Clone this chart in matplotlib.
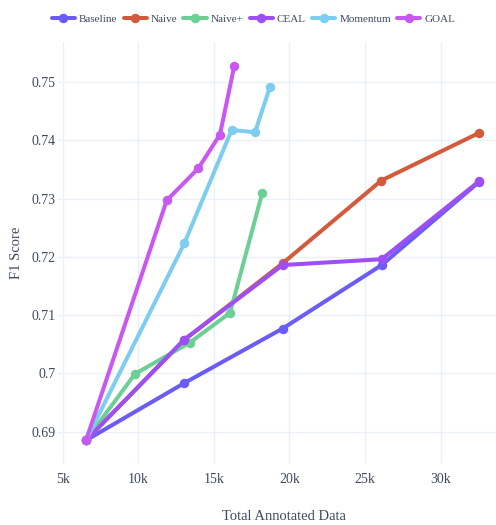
import matplotlib.pyplot as plt
from matplotlib.ticker import FuncFormatter

methods = ["Baseline", "Naive", "Naive+", "CEAL", "Momentum", "GOAL"]
colors = ["#6a5cf5", "#d45a3e", "#6ccf96", "#9d4ff5", "#7dcdf0", "#c957f2"]

baseline_x = [6540, 13020, 19550, 26100, 32550]
baseline_y = [0.6885, 0.6983, 0.7077, 0.7186, 0.7329]

naive_x = [6540, 13020, 19550, 26070, 32550]
naive_y = [0.6885, 0.7057, 0.7189, 0.7331, 0.7413]

naive_plus_x = [6540, 9780, 13420, 16070, 18200]
naive_plus_y = [0.6885, 0.6999, 0.7053, 0.7104, 0.7310]

ceal_x = [6540, 13040, 19550, 26100, 32550]
ceal_y = [0.6885, 0.7058, 0.7186, 0.7196, 0.7330]

momentum_x = [6540, 13040, 16180, 17720, 18710]
momentum_y = [0.6885, 0.7223, 0.7418, 0.7414, 0.7492]

goal_x = [6540, 11880, 13970, 15400, 16350]
goal_y = [0.6885, 0.7297, 0.7352, 0.7410, 0.7528]

xs = [baseline_x, naive_x, naive_plus_x, ceal_x, momentum_x, goal_x]
ys = [baseline_y, naive_y, naive_plus_y, ceal_y, momentum_y, goal_y]

plt.rcParams["font.family"] = ["Liberation Serif", "DejaVu Serif"]
text_color = "#3f4a5f"
grid_color = "#ebf0f8"

fig = plt.figure(figsize=(4.96, 5.25), dpi=100)
# plot area runs past the right edge, like the cropped original
ax = fig.add_axes([0.117, 0.118, 0.911, 0.802])

lines = []
for name, color, x, y in zip(methods, colors, xs, ys):
    (ln,) = ax.plot(x, y, color=color, linewidth=2.9, marker="o",
                    markersize=5.8, label=name, solid_joinstyle="round",
                    solid_capstyle="round")
    lines.append(ln)

ax.set_xlim(4690, 34580)
ax.set_ylim(0.6846, 0.7569)
ax.set_xticks([5000, 10000, 15000, 20000, 25000, 30000])
ax.set_yticks([0.69, 0.70, 0.71, 0.72, 0.73, 0.74, 0.75])
ax.xaxis.set_major_formatter(FuncFormatter(lambda v, p: f"{int(v / 1000)}k"))
ax.yaxis.set_major_formatter(FuncFormatter(lambda v, p: f"{v:g}"))

ax.grid(True, color=grid_color, linewidth=1.0)
ax.set_axisbelow(True)
for s in ax.spines.values():
    s.set_visible(False)
ax.tick_params(length=0, labelsize=10, colors=text_color)
ax.tick_params(axis="y", pad=2)
ax.tick_params(axis="x", pad=7)

fig.text(17 / 496, 1 - 253 / 525, "F1 Score", rotation=90, ha="center",
         va="center", fontsize=10.5, color=text_color)
fig.text(284 / 496, 1 - 517 / 525, "Total Annotated Data", ha="center",
         va="center", fontsize=10.5, color=text_color)

fig.legend(handles=lines, loc="center", bbox_to_anchor=(0.511, 0.964),
           ncol=6, frameon=False, fontsize=8, handlelength=2.1,
           handletextpad=0.35, columnspacing=0.55, labelcolor=text_color)

fig.savefig("out.png", dpi=100)
